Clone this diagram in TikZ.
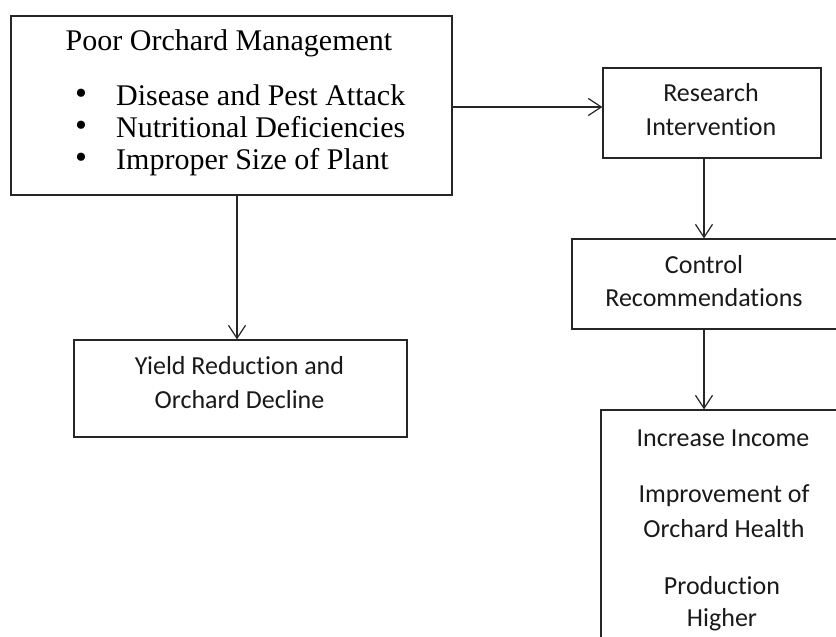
\documentclass[tikz,border=0pt]{standalone}
\usepackage{fontspec}
\setmainfont{Liberation Serif}
\newfontfamily\calib[Ligatures={NoCommon},RawFeature={-liga;-clig}]{Carlito}
\usetikzlibrary{arrows.meta}
\tikzset{
  box/.style={draw=black!85, line width=1.2pt, inner sep=0pt, fill=none},
  arr/.style={draw=black!85, line width=1.2pt, -{Straight Barb[length=13pt,width=17pt,line width=1.2pt]}},
  serif/.style={inner sep=0pt, font=\fontsize{30}{32}\selectfont},
  ctxt/.style={inner sep=0pt, align=center, text=black!90, font=\calib\fontsize{26}{34}\selectfont},
}
\newcommand{\bul}{\makebox[41pt][l]{\smash{\raisebox{1pt}{\fontsize{34}{32}\selectfont•}}}}
\begin{document}
\begin{tikzpicture}[x=1pt,y=-1pt]
\useasboundingbox (0,0) rectangle (836,637);
\clip (0,0) rectangle (836,637);
% boxes
\node[box, minimum width=441pt, minimum height=179pt] (top) at (231.5,105.5) {};
\node[box, minimum width=218pt, minimum height=90pt] (res) at (712,113) {};
\node[box, minimum width=270pt, minimum height=90pt] (ctrl) at (707,284) {};
\node[box, minimum width=242pt, minimum height=260pt] (inc) at (722,540) {};
\node[box, minimum width=333pt, minimum height=97pt] (yield) at (240.5,388.5) {};
% texts
\node[serif] (title) at (229,43) {Poor Orchard Management};
\node[serif, anchor=west, align=left] (bullets) at (75,130)
  {\bul Disease and Pest Attack\\
   \bul Nutritional Deficiencies\\
   \bul Improper Size of Plant};
\node[ctxt] (rtext) at (711,110) {Research\\Intervention};
\node[ctxt, font=\calib\fontsize{26}{33}\selectfont] (ctext) at (704,281.5) {Control\\Recommendations};
\node[ctxt] (ytext) at (239.5,383) {Yield Reduction and\\Orchard Decline};
\node[ctxt] (i1) at (723,438) {Increase Income};
\node[ctxt, font=\calib\fontsize{26}{35}\selectfont] (i2) at (724,511.5) {Improvement of\\Orchard Health};
\node[ctxt, font=\calib\fontsize{26}{32}\selectfont] (i3) at (722,604) {Production\\Higher};
% connectors
\coordinate (cx) at (704,0);
\coordinate (lx) at (237,0);
\coordinate (hy) at (0,107);
\draw[arr] (top.east |- hy) -- (res.west |- hy);
\draw[arr] (res.south -| cx) -- (ctrl.north -| cx);
\draw[arr] (ctrl.south -| cx) -- (inc.north -| cx);
\draw[arr] (top.south -| lx) -- (yield.north -| lx);
\end{tikzpicture}
\end{document}
